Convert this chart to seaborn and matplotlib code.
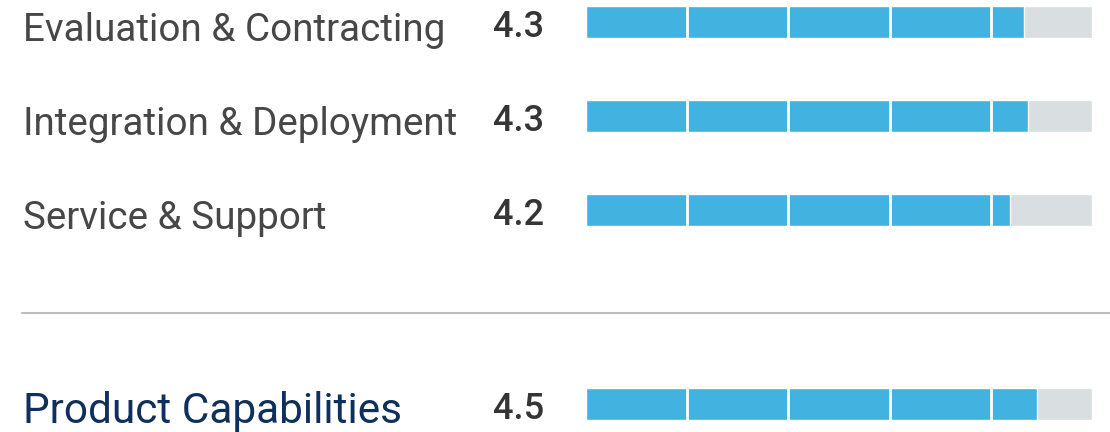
import matplotlib
matplotlib.use('Agg')
import matplotlib.pyplot as plt
import seaborn as sns
import pandas as pd

sns.set_style("white")
plt.rcParams['font.family'] = ['Roboto', 'DejaVu Sans']

# data
top_labels = ['Evaluation & Contracting', 'Integration & Deployment', 'Service & Support']
top_scores = [4.33, 4.37, 4.19]
top_shown = ['4.3', '4.3', '4.2']
bottom_labels = ['Product Capabilities']
bottom_scores = [4.46]
bottom_shown = ['4.5']
max_score = 5

BLUE = '#42b2e0'
GREY = '#d9dee0'
W, H = 1110, 432
X0, X1 = 586, 1092          # pixel extent of a full bar
UNIT = (X1 - X0) / max_score
ROW = 94                    # pixel spacing between rows


def draw_panel(fig, top_px, bot_px, first_center, labels, scores, shown,
               label_color, label_size):
    ax = fig.add_axes([0, 1 - bot_px / H, 1, (bot_px - top_px) / H])
    df = pd.DataFrame({'label': labels, 'score': scores, 'max': [max_score] * len(labels)})
    sns.barplot(data=df, x='max', y='label', color=GREY, width=32 / ROW,
                saturation=1, ax=ax, orient='h')
    sns.barplot(data=df, x='score', y='label', color=BLUE, width=32 / ROW,
                saturation=1, ax=ax, orient='h')
    ax.set_xlim(-X0 / UNIT, (W - X0) / UNIT)
    ax.set_ylim((bot_px - first_center) / ROW, (top_px - first_center) / ROW)
    # white gaps that split the bar into unit segments
    for k in range(1, max_score):
        ax.axvline(k, color='white', lw=2)
    for i, (lab, txt) in enumerate(zip(labels, shown)):
        ax.text(-(X0 - 23) / UNIT, i + 19 / ROW, lab, ha='left', va='baseline',
                fontsize=label_size, color=label_color)
        ax.text(-(X0 - 544) / UNIT, i + 15 / ROW, txt, ha='right', va='baseline',
                fontsize=26, fontweight='medium', color='#353535')
    ax.axis('off')
    return ax


fig = plt.figure(figsize=(W / 100, H / 100), dpi=100)
draw_panel(fig, 0, 270, 22, top_labels, top_scores, top_shown, '#474747', 27.8)
draw_panel(fig, 330, 432, 404, bottom_labels, bottom_scores, bottom_shown, '#0f2f5c', 30.5)
fig.add_artist(plt.Line2D([22 / W, 1], [1 - 313 / H] * 2, color='#bdbdbd', lw=1.5))

plt.savefig('out.png', dpi=100)
